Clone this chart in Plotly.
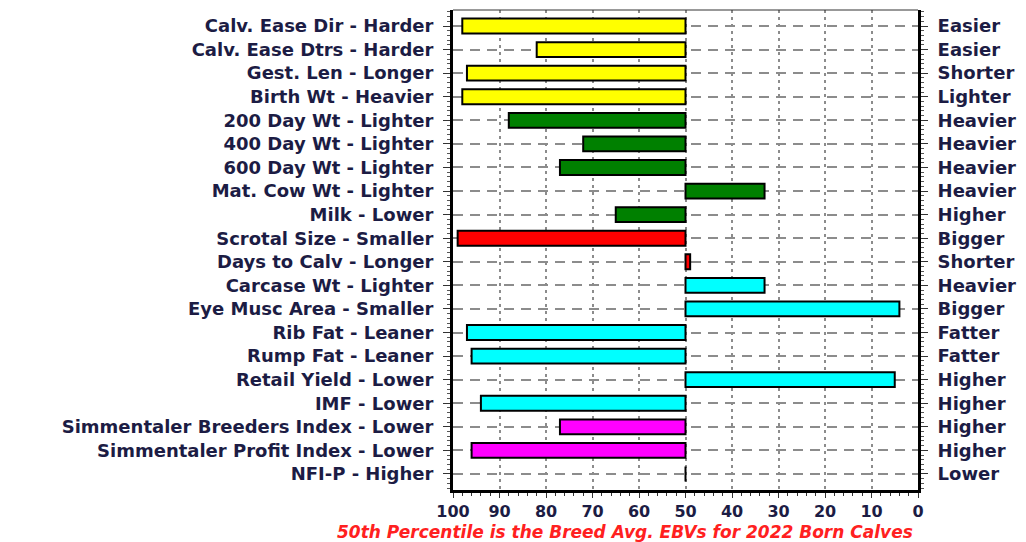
import plotly.graph_objects as go

# EBV traits, low-side descriptors (left) and high-side descriptors (right)
traits_left = [
    "Calv. Ease Dir - Harder", "Calv. Ease Dtrs - Harder", "Gest. Len - Longer",
    "Birth Wt - Heavier", "200 Day Wt - Lighter", "400 Day Wt - Lighter",
    "600 Day Wt - Lighter", "Mat. Cow Wt - Lighter", "Milk - Lower",
    "Scrotal Size - Smaller", "Days to Calv - Longer", "Carcase Wt - Lighter",
    "Eye Musc Area - Smaller", "Rib Fat - Leaner", "Rump Fat - Leaner",
    "Retail Yield - Lower", "IMF - Lower", "Simmentaler Breeders Index - Lower",
    "Simmentaler Profit Index - Lower", "NFI-P - Higher",
]
traits_right = [
    "Easier", "Easier", "Shorter", "Lighter", "Heavier", "Heavier", "Heavier",
    "Heavier", "Higher", "Bigger", "Shorter", "Heavier", "Bigger", "Fatter",
    "Fatter", "Higher", "Higher", "Higher", "Higher", "Lower",
]
# percentile rank for each trait (50 = breed average)
percentiles = [98, 82, 97, 98, 88, 72, 77, 33, 65, 99,
               49, 33, 4, 97, 96, 5, 94, 77, 96, 50]
# trait group colours
bar_colors = (["#FFFF00"] * 4 + ["#008000"] * 5 + ["#FF0000"] * 2
              + ["#00FFFF"] * 6 + ["#FF00FF"] * 2 + ["#FFFFFF"])
x_ticks = [100, 90, 80, 70, 60, 50, 40, 30, 20, 10, 0]
breed_avg = 50
footer = "50th Percentile is the Breed Avg. EBVs for 2022 Born Calves"

n = len(traits_left)
pos = list(range(n))
txt = "#1c1c44"
font = dict(family="DejaVu Sans", size=18, color=txt, weight="bold")

fig = go.Figure()
fig.add_trace(go.Bar(
    y=pos, x=[p - breed_avg for p in percentiles], base=[breed_avg] * n,
    orientation="h", width=0.63,
    marker=dict(color=bar_colors, line=dict(color="#000000", width=2)),
    showlegend=False, hoverinfo="skip",
))
# invisible trace so the right-hand descriptor axis is drawn
fig.add_trace(go.Scatter(y=pos, x=[breed_avg] * n, yaxis="y2", mode="markers",
                         marker=dict(opacity=0), showlegend=False, hoverinfo="skip"))

yrange = [n - 1 + 0.68, -0.68]
fig.update_layout(
    width=1026, height=542,
    margin=dict(l=453, r=106, t=10, b=52),
    plot_bgcolor="#FFFFFF", paper_bgcolor="#FFFFFF",
    font=font,
    xaxis=dict(
        range=[100, 0], tickvals=x_ticks, ticktext=[str(v) for v in x_ticks],
        showgrid=True, gridcolor="#8c8c8c", gridwidth=2, griddash="3px,4px",
        zeroline=False, showline=True, linecolor="#000000", linewidth=3,
        ticks="outside", ticklen=5, tickwidth=1, tickcolor="#333333",
        minor=dict(tickmode="linear", tick0=0, dtick=2, ticks="outside",
                   ticklen=3, tickcolor="#333333", showgrid=False),
        tickfont=dict(family="DejaVu Sans", size=16, color=txt, weight="bold"),
    ),
    yaxis=dict(
        range=yrange, tickmode="array", tickvals=pos, ticktext=traits_left,
        showgrid=True, gridcolor="#8c8c8c", gridwidth=2, griddash="10px,7px",
        zeroline=False, showline=True, linecolor="#000000", linewidth=3,
        ticks="outside", ticklen=7, tickwidth=1, tickcolor="#333333",
        ticklabelstandoff=6,
        minor=dict(tickmode="linear", tick0=0, dtick=0.2, ticks="outside",
                   ticklen=3, tickcolor="#555555", showgrid=False),
    ),
    yaxis2=dict(
        range=yrange, overlaying="y", side="right", tickmode="array",
        tickvals=pos, ticktext=traits_right, showgrid=False, zeroline=False,
        showline=True, linecolor="#000000", linewidth=3,
        ticks="outside", ticklen=7, tickwidth=1, tickcolor="#333333",
        ticklabelstandoff=6,
        minor=dict(tickmode="linear", tick0=0, dtick=0.2, ticks="outside",
                   ticklen=3, tickcolor="#555555", showgrid=False),
    ),
    shapes=[dict(type="line", xref="paper", yref="paper", x0=0, x1=1, y0=1, y1=1,
                 line=dict(color="#333333", width=1))],
    annotations=[dict(text=footer, xref="paper", yref="paper", x=-0.253, y=-0.0875,
                      xanchor="left", yanchor="middle", showarrow=False,
                      font=dict(family="DejaVu Sans", size=17, color="#FF2020",
                                style="italic", weight="bold"))],
)

fig.write_html("out.html")
